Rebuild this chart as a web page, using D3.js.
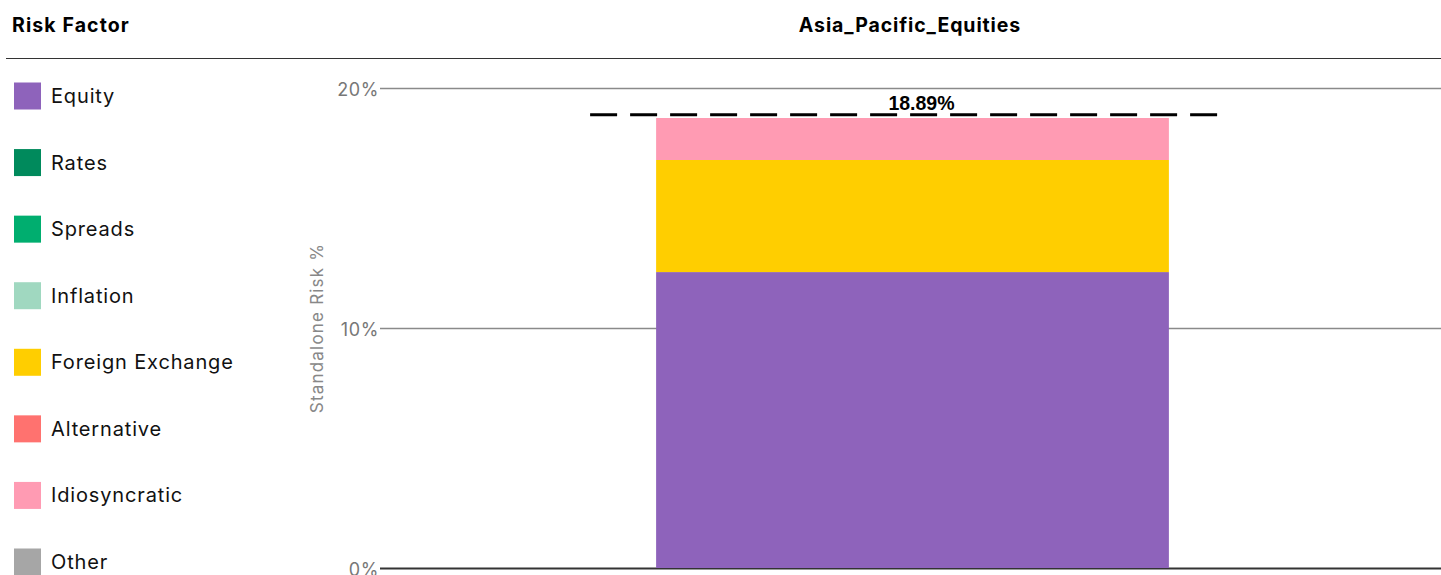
<!DOCTYPE html>
<html>
<head>
<meta charset="utf-8">
<script src="https://cdn.jsdelivr.net/npm/d3@7"></script>
<style>
  html, body { margin: 0; padding: 0; background: #fff; }
  svg { display: block; }
</style>
</head>
<body>
<svg id="chart" width="1441" height="575"></svg>
<script>
// ---- data ----
const categories = ["Asia_Pacific_Equities"];
const riskFactors = ["Equity", "Rates", "Spreads", "Inflation", "Foreign Exchange", "Alternative", "Idiosyncratic", "Other"];
const factorColors = ["#8E63BB", "#008A5C", "#00AE6F", "#A0D8C0", "#FFCE00", "#FF726F", "#FF9BB3", "#A6A6A6"];
const equityValues = [12.33];
const ratesValues = [0];
const spreadsValues = [0];
const inflationValues = [0];
const fxValues = [4.67];
const alternativeValues = [0];
const idiosyncraticValues = [1.75];
const otherValues = [0];
const totalRisk = [18.89];
const yTicks = [0, 10, 20];

const seriesValues = [equityValues, ratesValues, spreadsValues, inflationValues, fxValues, alternativeValues, idiosyncraticValues, otherValues];

// ---- layout ----
const W = 1441, H = 575;
const plot = { left: 380, right: 1445, top: 88, bottom: 568 };
const svg = d3.select("#chart");
const FONT = "Inter, 'DejaVu Sans', sans-serif";

// header
svg.append("text").attr("x", 12).attr("y", 32)
  .attr("font-family", FONT).attr("font-weight", 700).attr("font-size", 19.5)
  .attr("letter-spacing", 1.1)
  .attr("fill", "#000").text("Risk Factor");
svg.append("text").attr("x", 910).attr("y", 32).attr("text-anchor", "middle")
  .attr("font-family", FONT).attr("font-weight", 700).attr("font-size", 19.5)
  .attr("letter-spacing", 0.9)
  .attr("fill", "#000").text(categories[0]);
svg.append("line").attr("x1", 6).attr("x2", W).attr("y1", 58.5).attr("y2", 58.5)
  .attr("stroke", "#333").attr("stroke-width", 1.2);

// legend
const legendY = d3.scalePoint().domain(riskFactors).range([96, 562]);
const leg = svg.append("g").selectAll("g").data(riskFactors).join("g")
  .attr("transform", d => `translate(14,${legendY(d)})`);
leg.append("rect").attr("x", 0).attr("y", -13.5).attr("width", 27).attr("height", 27)
  .attr("fill", (d, i) => factorColors[i]);
leg.append("text").attr("x", 37).attr("y", 0).attr("dy", "0.35em")
  .attr("font-family", FONT).attr("font-size", 20).attr("letter-spacing", 0.85)
  .attr("fill", "#111")
  .text(d => d);

// scales
const y = d3.scaleLinear().domain([0, 20]).range([plot.bottom, plot.top]);
const x = d3.scaleBand().domain(categories).range([plot.left, plot.right]).paddingInner(0.35).paddingOuter(0.35);

// grid + ticks
const yAxis = d3.axisLeft(y).tickValues(yTicks).tickFormat(d => d + "%").tickSize(0).tickPadding(1);
const ga = svg.append("g").attr("transform", `translate(${plot.left},0)`).call(yAxis);
ga.select(".domain").remove();
ga.selectAll("text").attr("font-family", FONT).attr("font-size", 18).attr("letter-spacing", 0.6)
  .attr("fill", "#777").attr("dy", "0.4em");

svg.append("g").selectAll("line").data(yTicks).join("line")
  .attr("x1", plot.left).attr("x2", W)
  .attr("y1", d => Math.round(y(d)) + 0.5).attr("y2", d => Math.round(y(d)) + 0.5)
  .attr("stroke", d => d === 0 ? "#333" : "#8a8a8a")
  .attr("stroke-width", d => d === 0 ? 2 : 1.3);

// axis title
svg.append("text")
  .attr("transform", `translate(323,${(plot.top + plot.bottom) / 2}) rotate(-90)`)
  .attr("text-anchor", "middle")
  .attr("font-family", FONT).attr("font-size", 17).attr("letter-spacing", 1.2).attr("fill", "#888")
  .text("Standalone Risk %");

// stacked bars
const table = categories.map((c, ci) => {
  const row = { category: c };
  riskFactors.forEach((f, fi) => { row[f] = seriesValues[fi][ci]; });
  return row;
});
const stack = d3.stack().keys(riskFactors)(table);
svg.append("g").selectAll("g").data(stack).join("g")
  .attr("fill", (d, i) => factorColors[i])
  .selectAll("rect").data(d => d).join("rect")
  .attr("x", d => x(d.data.category))
  .attr("width", x.bandwidth())
  .attr("y", d => y(d[1]))
  .attr("height", d => Math.max(0, y(d[0]) - y(d[1])));

// total dashed line + label
categories.forEach((c, ci) => {
  const bx = x(c), bw = x.bandwidth();
  svg.append("line")
    .attr("x1", bx - 66).attr("x2", bx + bw + 58)
    .attr("y1", y(totalRisk[ci])).attr("y2", y(totalRisk[ci]))
    .attr("stroke", "#000").attr("stroke-width", 3)
    .attr("stroke-dasharray", "27,13");
  svg.append("text")
    .attr("x", bx + bw / 2 + 9).attr("y", y(totalRisk[ci]) - 5)
    .attr("text-anchor", "middle")
    .attr("font-family", "'Liberation Sans', Arial, sans-serif").attr("font-weight", 700)
    .attr("font-size", 19.5).attr("fill", "#000")
    .text(totalRisk[ci].toFixed(2) + "%");
});
</script>
</body>
</html>
